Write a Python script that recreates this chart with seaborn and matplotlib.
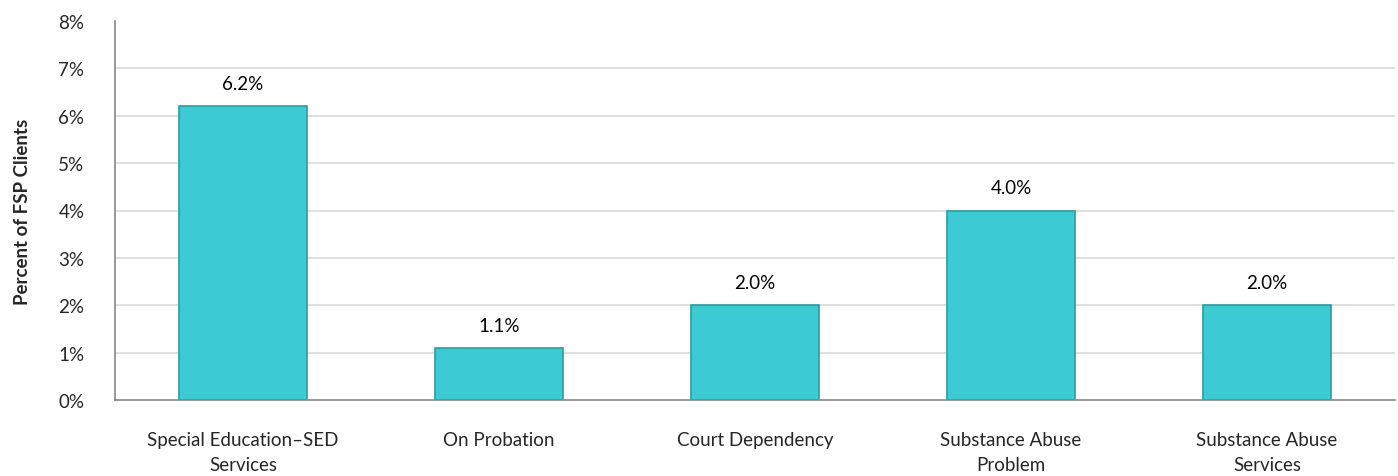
import matplotlib
matplotlib.use("Agg")
import matplotlib.pyplot as plt
import seaborn as sns
import pandas as pd

categories = ["Special Education\u2013SED\nServices", "On Probation", "Court Dependency",
              "Substance Abuse\nProblem", "Substance Abuse\nServices"]
values = [6.2, 1.1, 2.0, 4.0, 2.0]
yticks = [0, 1, 2, 3, 4, 5, 6, 7, 8]

sns.set_theme(style="white")
plt.rcParams['font.family'] = ['Lato', 'DejaVu Sans']

df = pd.DataFrame({"cat": categories, "val": values})
fig = plt.figure(figsize=(13.98, 4.77), dpi=100)
ax = fig.add_axes([115/1398, 1 - 401/477, 1280/1398, 379/477])

sns.barplot(data=df, x="cat", y="val", ax=ax, color="#3DCBD3", width=0.5,
            edgecolor="#2B9CA2", linewidth=1.2, saturation=1)

for p, v in zip(ax.patches, values):
    ax.text(p.get_x() + p.get_width() / 2, v + 0.3, f"{v:.1f}%", ha="center",
            va="bottom", fontsize=13.5, color="#000000")

ax.set_ylim(0, 8)
ax.set_yticks(yticks)
ax.set_yticklabels([f"{t}%" for t in yticks], fontsize=13.5)
ax.set_xticks(range(len(categories)))
ax.set_xticklabels(categories, fontsize=13.5, linespacing=1.6)
ax.tick_params(axis="x", length=0, pad=22)
ax.tick_params(axis="y", length=0, pad=22)
for t in yticks[1:-1]:
    ax.axhline(t, color="#D9D9D9", linewidth=1.2, zorder=0)
ax.set_xlabel("")
ax.set_ylabel("Percent of FSP Clients", fontsize=13.5, fontweight="bold", labelpad=20)
for s in ["top", "right"]:
    ax.spines[s].set_visible(False)
for s in ["left", "bottom"]:
    ax.spines[s].set_color("#868686")
    ax.spines[s].set_linewidth(1.2)
ax.set_xlim(-0.5, 4.5)

fig.savefig("out.png", dpi=100)
